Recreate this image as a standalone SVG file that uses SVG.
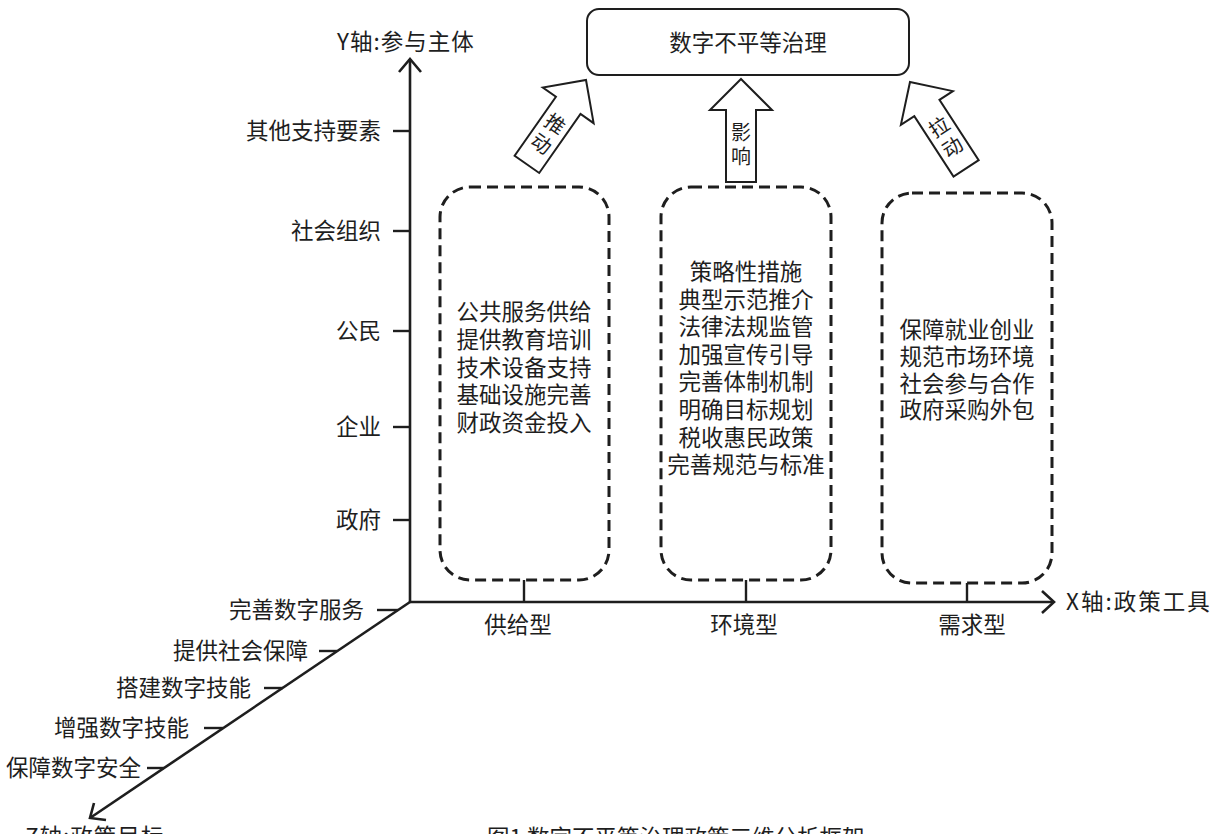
<svg xmlns="http://www.w3.org/2000/svg" width="1218" height="834" viewBox="0 0 1218 834">
<style>
text{font-family:"Noto Sans CJK SC","Noto Sans",sans-serif;fill:#1e1e1e;font-size:22.5px}
.ax{stroke:#1e1e1e;stroke-width:2.6;fill:none}
.tk{stroke:#1e1e1e;stroke-width:2.4}
.dash{fill:#fff;stroke:#1e1e1e;stroke-width:3;stroke-dasharray:11 6}
.blk{fill:#fff;stroke:#1e1e1e;stroke-width:2;stroke-linejoin:miter}
.r{text-anchor:end}
.m{text-anchor:middle}
.at{font-size:20px;text-anchor:middle}
</style>
<defs>
<path id="barrow" d="M0,0 L31,31 L15,31 L15,103 L-15,103 L-15,31 L-31,31 Z"/>
</defs>
<rect width="1218" height="834" fill="#fff"/>

<g id="axes">
<line class="ax" x1="410" y1="602" x2="410" y2="59"/>
<polyline class="ax" points="399,72 410,59 421,72"/>
<line class="ax" x1="410" y1="602" x2="1054" y2="602"/>
<polyline class="ax" points="1042,591 1054,602 1042,613"/>
<line class="ax" x1="410" y1="602" x2="90" y2="818"/>
<polyline class="ax" points="106,820 90,818 94,803"/>
<text x="337" y="50" letter-spacing="1">Y轴:参与主体</text>
<text x="1066" y="610" letter-spacing="2">X轴:政策工具</text>
<text x="25" y="845" letter-spacing="1">Z轴:政策目标</text>
</g>

<g id="y-ticks">
<line class="tk" x1="393" y1="131" x2="410" y2="131"/>
<line class="tk" x1="393" y1="231" x2="410" y2="231"/>
<line class="tk" x1="393" y1="331" x2="410" y2="331"/>
<line class="tk" x1="393" y1="427" x2="410" y2="427"/>
<line class="tk" x1="393" y1="520" x2="410" y2="520"/>
<text class="r" x="381" y="139">其他支持要素</text>
<text class="r" x="381" y="239">社会组织</text>
<text class="r" x="381" y="339">公民</text>
<text class="r" x="381" y="435">企业</text>
<text class="r" x="381" y="528">政府</text>
</g>

<g id="z-ticks">
<line class="tk" x1="377" y1="610" x2="398" y2="610"/>
<line class="tk" x1="319" y1="651" x2="337" y2="651"/>
<line class="tk" x1="264" y1="688" x2="283" y2="688"/>
<line class="tk" x1="204" y1="728" x2="223" y2="728"/>
<line class="tk" x1="147" y1="768" x2="164" y2="768"/>
<text class="r" x="364" y="618">完善数字服务</text>
<text class="r" x="308" y="659">提供社会保障</text>
<text class="r" x="251" y="696">搭建数字技能</text>
<text class="r" x="189" y="736">增强数字技能</text>
<text class="r" x="141" y="776">保障数字安全</text>
</g>

<g id="x-ticks">
<line class="tk" x1="524" y1="580" x2="524" y2="602"/>
<line class="tk" x1="746" y1="580" x2="746" y2="602"/>
<line class="tk" x1="967" y1="583" x2="967" y2="602"/>
<text class="m" x="518" y="633">供给型</text>
<text class="m" x="744" y="633">环境型</text>
<text class="m" x="972" y="633">需求型</text>
</g>

<g id="goal">
<rect x="587" y="9" width="322" height="66" rx="12" fill="#fff" stroke="#1e1e1e" stroke-width="2"/>
<text class="m" x="748" y="51">数字不平等治理</text>
</g>

<g id="supply">
<rect class="dash" x="440" y="187" width="169" height="393" rx="30"/>
<text class="m" x="524" y="320">公共服务供给</text>
<text class="m" x="524" y="348">提供教育培训</text>
<text class="m" x="524" y="376">技术设备支持</text>
<text class="m" x="524" y="403">基础设施完善</text>
<text class="m" x="524" y="431">财政资金投入</text>
</g>

<g id="environment">
<rect class="dash" x="661" y="187" width="170" height="393" rx="30"/>
<text class="m" x="746" y="280">策略性措施</text>
<text class="m" x="746" y="308">典型示范推介</text>
<text class="m" x="746" y="335">法律法规监管</text>
<text class="m" x="746" y="363">加强宣传引导</text>
<text class="m" x="746" y="390">完善体制机制</text>
<text class="m" x="746" y="418">明确目标规划</text>
<text class="m" x="746" y="446">税收惠民政策</text>
<text class="m" x="746" y="473">完善规范与标准</text>
</g>

<g id="demand">
<rect class="dash" x="882" y="193" width="170" height="390" rx="30"/>
<text class="m" x="967" y="338">保障就业创业</text>
<text class="m" x="967" y="365">规范市场环境</text>
<text class="m" x="967" y="392">社会参与合作</text>
<text class="m" x="967" y="418">政府采购外包</text>
</g>

<g id="connectors">
<g transform="translate(586,80) rotate(35)">
<use href="#barrow" class="blk"/>
<text class="at" x="0" y="61">推</text>
<text class="at" x="0" y="85">动</text>
</g>
<g transform="translate(741,79)">
<use href="#barrow" class="blk"/>
<text class="at" x="0" y="61">影</text>
<text class="at" x="0" y="85">响</text>
</g>
<g transform="translate(910,82) rotate(-33)">
<use href="#barrow" class="blk"/>
<text class="at" x="0" y="61">拉</text>
<text class="at" x="0" y="85">动</text>
</g>
</g>

<g id="caption">
<text x="487" y="846">图1 数字不平等治理政策三维分析框架</text>
</g>
</svg>
